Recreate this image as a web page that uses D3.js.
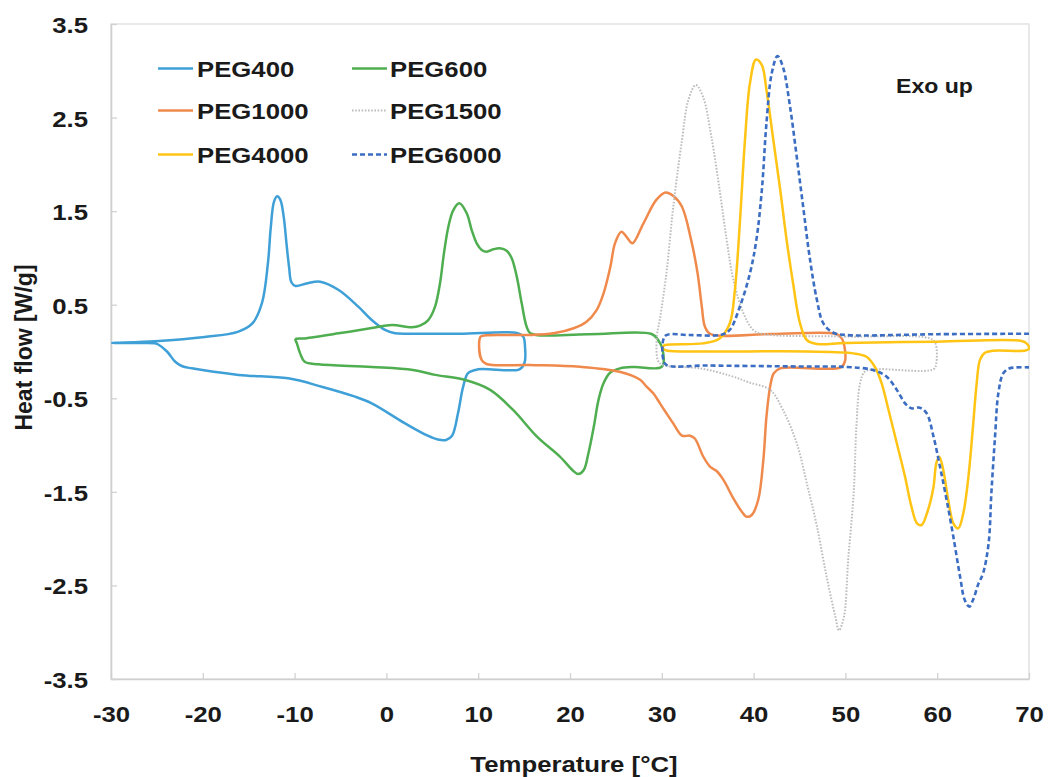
<!DOCTYPE html>
<html>
<head>
<meta charset="utf-8">
<script src="https://cdn.jsdelivr.net/npm/d3@7"></script>
<style>
  html, body { margin: 0; padding: 0; background: #fff; }
  svg { display: block; }
  text { font-family: "Liberation Sans", Arial, sans-serif; font-weight: bold; fill: #1a1a1a; }
</style>
</head>
<body>
<svg id="chart" width="1052" height="777"></svg>
<script>
// DSC heating/cooling loops, [temperature °C, heat flow W/g], listed along the scan path
const peg400 = [
  [14.2, 0.198], [8, 0.19], [3, 0.19], [0.94, 0.194], [-0.15, 0.23], [-1.6, 0.336], [-3.06, 0.479],
  [-5.2, 0.657], [-7.2, 0.746], [-8.6, 0.73], [-9.9, 0.70], [-10.35, 0.74], [-10.6, 0.9],
  [-10.85, 1.12], [-11.2, 1.45], [-11.55, 1.62], [-11.9, 1.66], [-12.25, 1.6], [-12.6, 1.32],
  [-12.9, 0.95], [-13.55, 0.52], [-14.6, 0.30], [-16.2, 0.21], [-19.8, 0.155], [-25.2, 0.11],
  [-29.9, 0.09],
  [-27, 0.09], [-25.2, 0.087], [-24.85, 0.075], [-23.9, 0.0], [-23.0, -0.11], [-22.3, -0.155],
  [-21.2, -0.18], [-16.1, -0.25], [-10.7, -0.287], [-7.05, -0.376], [-3.5, -0.48], [-1.6, -0.554],
  [2.03, -0.768], [4.5, -0.90], [5.6, -0.94], [6.5, -0.945], [7.15, -0.9], [7.8, -0.66], [8.35, -0.38],
  [8.9, -0.23], [10.0, -0.19], [14.5, -0.19], [15.05, -0.12], [15.1, 0.05], [14.9, 0.16]
];
const peg600 = [
  [28.9, 0.187], [22, 0.185], [15.7, 0.194], [15.28, 0.265], [14.74, 0.515], [14.2, 0.80],
  [13.65, 0.996], [13.1, 1.077], [12.37, 1.103], [11.65, 1.092], [10.93, 1.066], [10.38, 1.085],
  [9.84, 1.156], [9.29, 1.298], [8.75, 1.477], [7.94, 1.584], [7.29, 1.512], [6.75, 1.334],
  [6.27, 1.05], [5.84, 0.73], [5.3, 0.48], [4.56, 0.336], [3.66, 0.276], [2.76, 0.258],
  [0.6, 0.283], [-1.6, 0.25], [-5.2, 0.194], [-8.9, 0.14], [-9.9, 0.13],
  [-9.75, 0.087], [-9.4, -0.02], [-8.9, -0.11], [-7.4, -0.137], [-1.6, -0.165], [2.9, -0.198],
  [5.3, -0.25], [8.4, -0.30], [11.3, -0.41], [13.8, -0.625], [16.4, -0.91], [18.9, -1.124],
  [20.4, -1.28], [20.9, -1.31], [21.5, -1.266], [22.0, -1.09], [22.6, -0.80], [23.1, -0.52],
  [23.65, -0.34], [24.36, -0.227], [25.45, -0.18], [27, -0.165], [30.0, -0.163],
  [30.1, 0.016], [29.6, 0.123]
];
const peg1000 = [
  [49.0, 0.187], [42, 0.187], [35.3, 0.187], [34.7, 0.265], [34.36, 0.478], [33.9, 0.835],
  [33.2, 1.19], [32.2, 1.547], [31.3, 1.66], [30.4, 1.70], [29.4, 1.62], [28.0, 1.37],
  [26.8, 1.156], [26.2, 1.22], [25.6, 1.28], [24.9, 1.156], [24.4, 0.906], [23.65, 0.62],
  [22.9, 0.443], [21.8, 0.318], [20.4, 0.248], [18.2, 0.194], [15.3, 0.176], [10.9, 0.173],
  [10.27, 0.158], [10.1, 0.087], [10.37, -0.09], [10.9, -0.134],
  [15.6, -0.144], [21.1, -0.163], [25.4, -0.216], [27.6, -0.30], [28.35, -0.376], [29.07, -0.447],
  [29.8, -0.554], [30.5, -0.66], [31.25, -0.77], [32.2, -0.90], [33.07, -0.90], [33.6, -0.93],
  [34.5, -1.12], [35.25, -1.23], [36.0, -1.28], [36.7, -1.37], [37.8, -1.57], [38.7, -1.71],
  [39.25, -1.766], [39.8, -1.747], [40.5, -1.587], [41.06, -1.16], [41.4, -0.697], [41.8, -0.376],
  [42.2, -0.233], [42.9, -0.18], [49.5, -0.17], [49.96, -0.10], [49.9, 0.05], [49.6, 0.14]
];
const peg1500 = [
  [59.2, 0.14], [50, 0.16], [41.06, 0.187], [39.97, 0.23], [38.9, 0.408], [37.8, 0.764],
  [37.07, 1.19], [36.3, 1.726], [35.4, 2.295], [34.5, 2.72], [33.7, 2.848], [32.9, 2.69],
  [32.2, 2.26], [31.25, 1.547], [30.5, 0.835], [29.8, 0.35], [29.45, 0.15], [29.6, -0.1],
  [30.1, -0.144], [34.2, -0.18], [37.5, -0.26], [39.5, -0.33], [41.8, -0.41], [43.2, -0.625],
  [44.7, -0.98], [45.8, -1.41], [46.9, -1.87], [47.96, -2.41], [48.9, -2.83], [49.3, -2.98],
  [49.85, -2.83], [50.3, -2.23], [50.9, -1.516], [51.2, -0.80], [51.6, -0.34], [52.1, -0.216],
  [53.0, -0.19], [59.6, -0.19], [59.9, -0.126], [59.8, 0.087]
];
const peg4000 = [
  [69.2, 0.112], [60, 0.105], [50, 0.09], [46.9, 0.08], [45.8, 0.123], [45.06, 0.30],
  [44.3, 0.729], [43.6, 1.19], [42.9, 1.726], [42.15, 2.26], [41.4, 2.795], [40.9, 3.06],
  [40.26, 3.12], [39.6, 2.866], [39.06, 2.26], [38.5, 1.37], [37.96, 0.657], [37.4, 0.30],
  [36.3, 0.14], [34.5, 0.087], [30.35, 0.069], [30.1, 0.05], [30.2, 0.025], [30.6, 0.008],
  [34.9, 0.0], [45.8, 0.0], [50.9, -0.02], [52.3, -0.056], [53.2, -0.163], [53.95, -0.34],
  [54.7, -0.625], [55.6, -0.98], [56.5, -1.34], [57.2, -1.66], [57.8, -1.836], [58.3, -1.854],
  [59.0, -1.694], [59.6, -1.445], [59.9, -1.195], [60.23, -1.124], [60.66, -1.266], [61.2, -1.587],
  [61.76, -1.836], [62.3, -1.89], [62.84, -1.73], [63.4, -1.34], [63.9, -0.80], [64.3, -0.34],
  [64.66, -0.09], [65.2, -0.013], [66.1, 0.008], [69.6, 0.01], [70, 0.03], [69.8, 0.08]
];
const peg6000 = [
  [70, 0.19], [60, 0.185], [50.1, 0.176], [48.7, 0.20], [47.6, 0.30], [46.9, 0.55],
  [46.1, 1.013], [45.4, 1.547], [44.7, 2.08], [43.97, 2.616], [43.2, 3.04], [42.6, 3.158],
  [41.97, 2.97], [41.4, 2.44], [40.9, 1.726], [40.3, 1.19], [39.6, 0.835], [38.5, 0.478],
  [37.4, 0.23], [36.5, 0.18], [33, 0.176], [30.5, 0.176], [30.15, 0.12], [30.15, -0.08],
  [30.5, -0.144], [35, -0.15], [45, -0.16], [50, -0.165], [53.0, -0.198], [54.5, -0.27],
  [55.6, -0.41], [56.5, -0.554], [57.2, -0.607], [58.1, -0.60], [58.85, -0.66], [59.6, -0.91],
  [60.3, -1.23], [61.03, -1.587], [61.76, -1.98], [62.5, -2.41], [63.0, -2.656], [63.5, -2.727],
  [63.9, -2.656], [64.5, -2.48], [65.0, -2.37], [65.6, -2.05], [65.9, -1.516], [66.3, -0.91],
  [66.66, -0.447], [67.2, -0.233], [67.9, -0.18], [70, -0.17]
];

const seriesNames = ["PEG400", "PEG600", "PEG1000", "PEG1500", "PEG4000", "PEG6000"];
const seriesData = [peg400, peg600, peg1000, peg1500, peg4000, peg6000];
const xTicks = [-30, -20, -10, 0, 10, 20, 30, 40, 50, 60, 70];
const yTicks = [-3.5, -2.5, -1.5, -0.5, 0.5, 1.5, 2.5, 3.5];

// line styles per series
const styles = {
  PEG400:  { color: "#3fa0d8", width: 2.5, dash: null, closed: true },
  PEG600:  { color: "#4fae50", width: 2.5, dash: null, closed: true },
  PEG1000: { color: "#f08a4c", width: 2.5, dash: null, closed: true },
  PEG1500: { color: "#bdbdbd", width: 2,   dash: "1.6,1.6", closed: true },
  PEG4000: { color: "#ffc414", width: 2.5, dash: null, closed: true },
  PEG6000: { color: "#3b6ec2", width: 2.6, dash: "5,3", closed: false }
};

(function draw() {
  const svg = d3.select("#chart");
  const pLeft = 111, pRight = 1029, pTop = 24, pBottom = 679;
  const x = d3.scaleLinear().domain([-30, 70]).range([pLeft, pRight]);
  const y = d3.scaleLinear().domain([-3.5, 3.5]).range([pBottom, pTop]);
  const SX = 1.12; // horizontal stretch of the label type

  // plot frame
  svg.append("rect")
    .attr("x", pLeft).attr("y", pTop)
    .attr("width", pRight - pLeft).attr("height", pBottom - pTop)
    .attr("fill", "none").attr("stroke", "#e2e2e2").attr("stroke-width", 1.5);

  // axes (plain hyphen for negative numbers)
  const gx = svg.append("g").attr("transform", `translate(0,${pBottom})`)
    .call(d3.axisBottom(x).tickValues(xTicks).tickSizeInner(-6).tickSizeOuter(0)
      .tickFormat(d => String(d)));
  const gy = svg.append("g").attr("transform", `translate(${pLeft},0)`)
    .call(d3.axisLeft(y).tickValues(yTicks).tickSizeInner(-6).tickSizeOuter(0)
      .tickFormat(d => d.toFixed(1)));

  [gx, gy].forEach(g => {
    g.select(".domain").attr("stroke", "#cfcfcf").attr("stroke-width", 1.6);
    g.selectAll(".tick line").attr("stroke", "#d2d2d2").attr("stroke-width", 1.3);
    g.selectAll("text").attr("font-size", 23).attr("font-weight", "bold")
      .attr("font-family", "'Liberation Sans', Arial, sans-serif").attr("fill", "#1a1a1a");
  });
  gx.selectAll(".tick text").attr("y", 43).attr("dy", null).attr("transform", `scale(${SX},1)`);
  gy.selectAll(".tick text").attr("x", -23 / SX).attr("dy", "0.37em").attr("transform", `scale(${SX},1)`);

  // clip curves to the plot area
  svg.append("clipPath").attr("id", "plotClip")
    .append("rect").attr("x", pLeft).attr("y", pTop - 5)
    .attr("width", pRight - pLeft + 1).attr("height", pBottom - pTop + 10);

  const plot = svg.append("g").attr("clip-path", "url(#plotClip)");
  seriesNames.forEach((name, i) => {
    const st = styles[name];
    const line = d3.line()
      .x(d => x(d[0])).y(d => y(d[1]))
      .curve(st.closed ? d3.curveCatmullRomClosed.alpha(0.5) : d3.curveCatmullRom.alpha(0.5));
    plot.append("path")
      .datum(seriesData[i])
      .attr("d", line)
      .attr("fill", "none")
      .attr("stroke", st.color)
      .attr("stroke-width", st.width)
      .attr("stroke-dasharray", st.dash)
      .attr("stroke-linejoin", "round");
  });

  // legend, two columns
  const legendCols = [[158, 197], [352, 390]];
  const legendRows = [77, 119, 163];
  seriesNames.forEach((name, i) => {
    const st = styles[name];
    const [lx, tx] = legendCols[i % 2];
    const by = legendRows[Math.floor(i / 2)];
    svg.append("line")
      .attr("x1", lx).attr("x2", lx + 35).attr("y1", by - 8.5).attr("y2", by - 8.5)
      .attr("stroke", st.color).attr("stroke-width", st.width)
      .attr("stroke-dasharray", st.dash);
    svg.append("text")
      .attr("transform", `translate(${tx},${by}) scale(${SX},1)`)
      .attr("font-size", 23)
      .text(name);
  });

  // annotation and axis titles
  svg.append("text")
    .attr("transform", "translate(896,93) scale(1.1,1)")
    .attr("font-size", 21)
    .text("Exo up");

  svg.append("text")
    .attr("transform", `translate(${(pLeft + pRight) / 2 + 4},772) scale(${SX},1)`)
    .attr("text-anchor", "middle")
    .attr("font-size", 23)
    .text("Temperature [°C]");

  svg.append("text")
    .attr("transform", `translate(32,${(pTop + pBottom) / 2 - 4}) rotate(-90)`)
    .attr("text-anchor", "middle")
    .attr("font-size", 23)
    .text("Heat flow [W/g]");
})();
</script>
</body>
</html>
